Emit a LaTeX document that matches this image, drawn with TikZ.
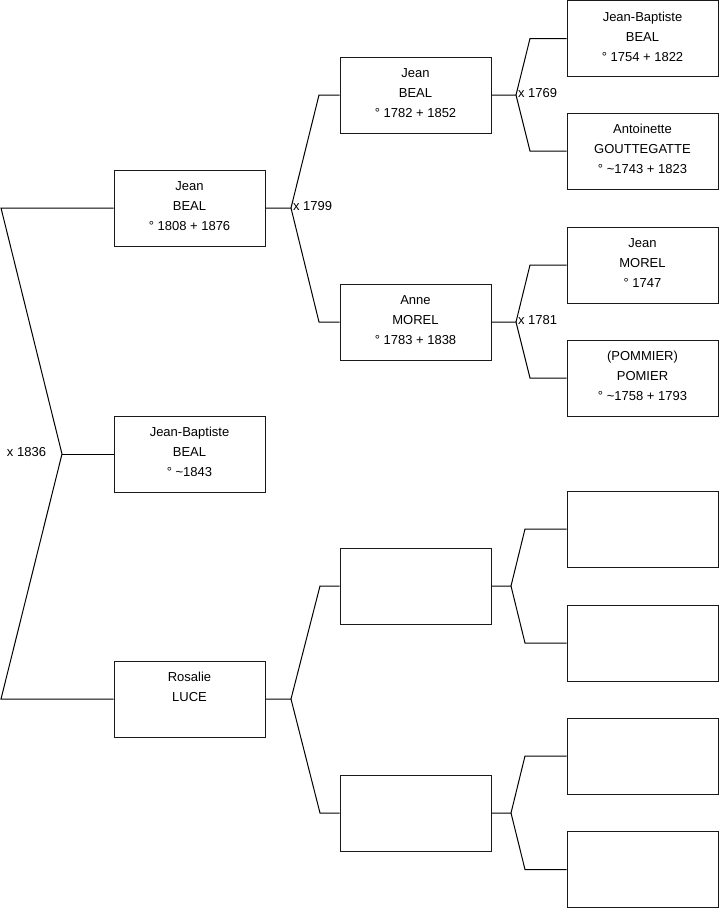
\documentclass[tikz,border=0pt]{standalone}
\usepackage{fontspec}
\setmainfont{Liberation Sans}
\newcommand\fiche[1]{\parbox[c][76pt][t]{151pt}{\centering\fontsize{13}{20}\selectfont\rule{0pt}{20.5pt}#1}}
\begin{document}
\begin{tikzpicture}
			[x=1pt, y=-1pt, line width=1pt,
			every node/.style={font=\fontsize{13}{20}\selectfont},
			box/.style={draw=black!90, inner sep=0pt},
			mariage/.style={anchor=west, inner sep=1.5pt, yshift=1.5pt}]
			\useasboundingbox (0,0) rectangle (719,908);
			
			\node[box] (s2) at (189.5,208) {\fiche{Jean\\BEAL\\° 1808 + 1876}};
			\node[box] (s1) at (189.5,454) {\fiche{Jean-Baptiste\\BEAL\\° \textasciitilde1843}};
			\node[box] (s3) at (189.5,699) {\fiche{Rosalie\\LUCE}};
			
			\node[box] (s4) at (415.5,95) {\fiche{Jean\\BEAL\\° 1782 + 1852}};
			\node[box] (s5) at (415.5,322) {\fiche{Anne\\MOREL\\° 1783 + 1838}};
			\node[box] (s6) at (415.5,586) {\fiche{}};
			\node[box] (s7) at (415.5,813) {\fiche{}};
			
			\node[box] (s8) at (642.5,38.5) {\fiche{Jean-Baptiste\\BEAL\\° 1754 + 1822}};
			\node[box] (s9) at (642.5,151) {\fiche{Antoinette\\GOUTTEGATTE\\° \textasciitilde1743 + 1823}};
			\node[box] (s10) at (642.5,265) {\fiche{Jean\\MOREL\\° 1747}};
			\node[box] (s11) at (642.5,378) {\fiche{(POMMIER)\\POMIER\\° \textasciitilde1758 + 1793}};
			\node[box] (s12) at (642.5,529) {\fiche{}};
			\node[box] (s13) at (642.5,643) {\fiche{}};
			\node[box] (s14) at (642.5,756) {\fiche{}};
			\node[box] (s15) at (642.5,869.5) {\fiche{}};
			
			% fork of the parents of s1
			\coordinate (m1) at (62,454);
			\coordinate (k2) at (1,208);
			\coordinate (k3) at (1,699);
			\draw (s2.west) -- (k2) -- (m1) -- (k3) -- (s3.west);
			\draw (m1) -- (s1.west);
			\node[anchor=east, inner sep=1.5pt] (x1) at (48,452) {x 1836};
			
			\coordinate (m2) at (291,208);
			\coordinate (k4) at (319,95);
			\coordinate (k5) at (319,322);
			\draw (s2.east) -- (m2) -- (k4) -- (s4.west);
			\draw (m2) -- (k5) -- (s5.west);
			\node[mariage] (x2) at (m2) {x 1799};
			
			\coordinate (m3) at (291,699);
			\coordinate (k6) at (320,586);
			\coordinate (k7) at (320,813);
			\draw (s3.east) -- (m3) -- (k6) -- (s6.west);
			\draw (m3) -- (k7) -- (s7.west);
			
			\coordinate (m4) at (516,95);
			\coordinate (k8) at (530,38.5);
			\coordinate (k9) at (530,151);
			\draw (s4.east) -- (m4) -- (k8) -- (s8.west);
			\draw (m4) -- (k9) -- (s9.west);
			\node[mariage] (x4) at (m4) {x 1769};
			
			\coordinate (m5) at (516,322);
			\coordinate (k10) at (530,265);
			\coordinate (k11) at (530,378);
			\draw (s5.east) -- (m5) -- (k10) -- (s10.west);
			\draw (m5) -- (k11) -- (s11.west);
			\node[mariage] (x5) at (m5) {x 1781};
			
			\coordinate (m6) at (511,586);
			\coordinate (k12) at (525,529);
			\coordinate (k13) at (525,643);
			\draw (s6.east) -- (m6) -- (k12) -- (s12.west);
			\draw (m6) -- (k13) -- (s13.west);
			
			\coordinate (m7) at (511,813);
			\coordinate (k14) at (525,756);
			\coordinate (k15) at (525,869.5);
			\draw (s7.east) -- (m7) -- (k14) -- (s14.west);
			\draw (m7) -- (k15) -- (s15.west);
		\end{tikzpicture}
\end{document}
